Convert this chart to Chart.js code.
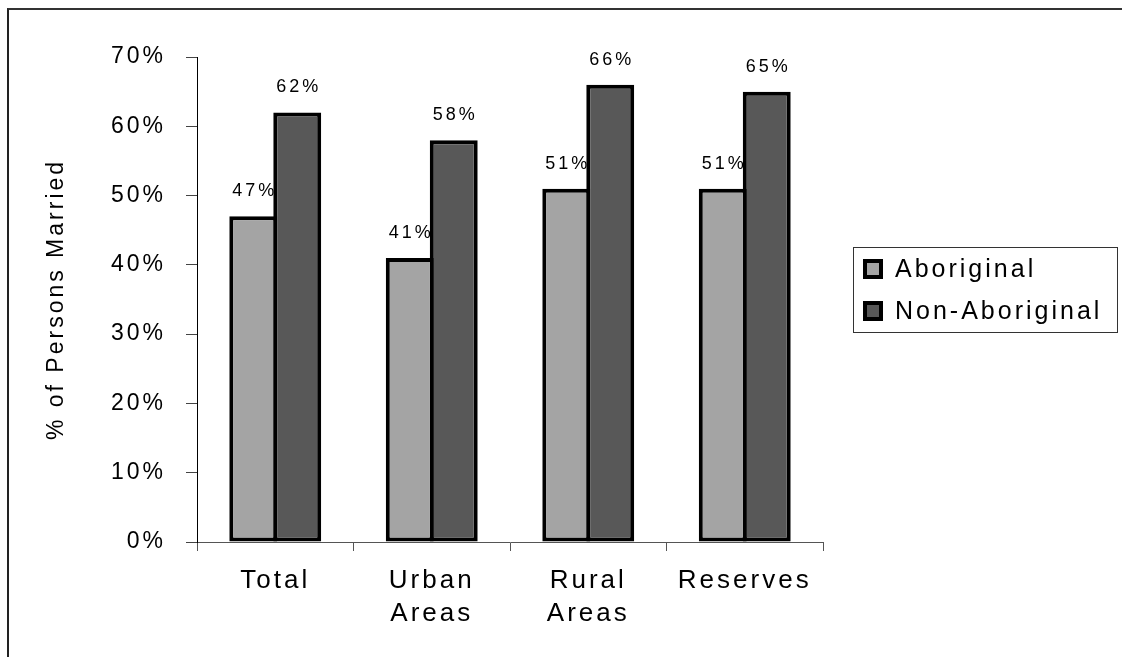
<!DOCTYPE html>
<html>
<head>
<meta charset="utf-8">
<title>% of Persons Married</title>
<script src="https://cdn.jsdelivr.net/npm/chart.js@4/dist/chart.umd.min.js"></script>
<style>
  html, body { margin: 0; padding: 0; background: #fff; overflow: hidden; }
  #wrap { position: relative; width: 1122px; height: 657px; }
  #chart { position: absolute; left: 0; top: 0; }
  #frame {
    position: absolute; left: 7px; top: 8px; right: -10px; bottom: -10px;
    border-top: 2px solid #333; border-left: 2px solid #222;
  }
</style>
</head>
<body>
<div id="wrap">
  <canvas id="chart" width="1122" height="657"></canvas>
  <div id="frame"></div>
</div>
<script>
// ===== Data =====
const categories = [['Total'], ['Urban', 'Areas'], ['Rural', 'Areas'], ['Reserves']];
const aboriginal = [47, 41, 51, 51];
const nonAboriginal = [62, 58, 66, 65];
const seriesNames = ['Aboriginal', 'Non-Aboriginal'];
const yTicks = [0, 10, 20, 30, 40, 50, 60, 70];

const FONT = 'Liberation Sans, Arial, Helvetica, sans-serif';
const SPACING = '3px';

// letter spacing for every piece of text on the canvas
const spacingPlugin = {
  id: 'spacing',
  beforeUpdate(chart) { chart.ctx.letterSpacing = SPACING; },
  beforeDraw(chart) { chart.ctx.letterSpacing = SPACING; }
};

// value labels above each bar
const valueLabels = {
  id: 'valueLabels',
  afterDatasetsDraw(chart) {
    const ctx = chart.ctx;
    ctx.save();
    ctx.letterSpacing = SPACING;
    ctx.font = '18px ' + FONT;
    ctx.fillStyle = '#000';
    ctx.textAlign = 'center';
    ctx.textBaseline = 'middle';
    chart.data.datasets.forEach((ds, i) => {
      chart.getDatasetMeta(i).data.forEach((bar, j) => {
        ctx.fillText(ds.data[j] + '%', bar.x + 1.5, bar.y - 25);
      });
    });
    ctx.restore();
  }
};

// boxed legend on the right
const boxLegend = {
  id: 'boxLegend',
  afterDraw(chart) {
    const ctx = chart.ctx;
    const left = 853, top = 247, w = 264, h = 85;
    ctx.save();
    ctx.strokeStyle = '#333';
    ctx.lineWidth = 1;
    ctx.strokeRect(left + 0.5, top + 0.5, w, h);
    ctx.letterSpacing = SPACING;
    ctx.font = '25px ' + FONT;
    ctx.textAlign = 'left';
    ctx.textBaseline = 'alphabetic';
    chart.data.datasets.forEach((ds, i) => {
      const y = 259 + i * 42;
      ctx.fillStyle = '#000';
      ctx.fillRect(863, y, 20, 20);
      ctx.fillStyle = ds.backgroundColor;
      ctx.fillRect(867, y + 4, 12, 12);
      ctx.fillStyle = '#000';
      ctx.fillText(ds.label, 895, y + 18);
    });
    ctx.restore();
  }
};

const barStyle = {
  borderColor: '#000',
  borderWidth: 4,
  borderSkipped: false,
  categoryPercentage: 0.562,
  barPercentage: 1.09
};

new Chart(document.getElementById('chart'), {
  type: 'bar',
  data: {
    labels: categories,
    datasets: [
      { label: seriesNames[0], data: aboriginal, backgroundColor: '#a4a4a4', ...barStyle },
      { label: seriesNames[1], data: nonAboriginal, backgroundColor: '#585858', ...barStyle }
    ]
  },
  options: {
    responsive: false,
    animation: false,
    devicePixelRatio: 1,
    layout: { padding: { top: 57, right: 299, bottom: 0, left: 0 } },
    plugins: {
      legend: { display: false },
      tooltip: { enabled: false }
    },
    scales: {
      x: {
        afterFit(scale) { scale.height = 115; },
        grid: { drawOnChartArea: false, tickLength: 9, color: '#555', offset: true },
        border: { color: '#555', width: 1 },
        ticks: {
          color: '#000',
          padding: 13,
          maxRotation: 0,
          autoSkip: false,
          font: { family: FONT, size: 26, lineHeight: 1.27 }
        }
      },
      y: {
        min: yTicks[0],
        max: yTicks[yTicks.length - 1],
        afterFit(scale) { scale.width = 197; },
        afterBuildTicks(scale) { scale.ticks = yTicks.map(v => ({ value: v })); },
        grid: { drawOnChartArea: false, tickLength: 11, color: '#444' },
        border: { color: '#000', width: 1 },
        ticks: {
          color: '#000',
          padding: 20,
          font: { family: FONT, size: 23 },
          callback: v => v + '%'
        },
        title: {
          display: true,
          text: '% of Persons Married',
          color: '#000',
          padding: { top: 43, bottom: 0 },
          font: { family: FONT, size: 23 }
        }
      }
    }
  },
  plugins: [spacingPlugin, valueLabels, boxLegend]
});
</script>
</body>
</html>
